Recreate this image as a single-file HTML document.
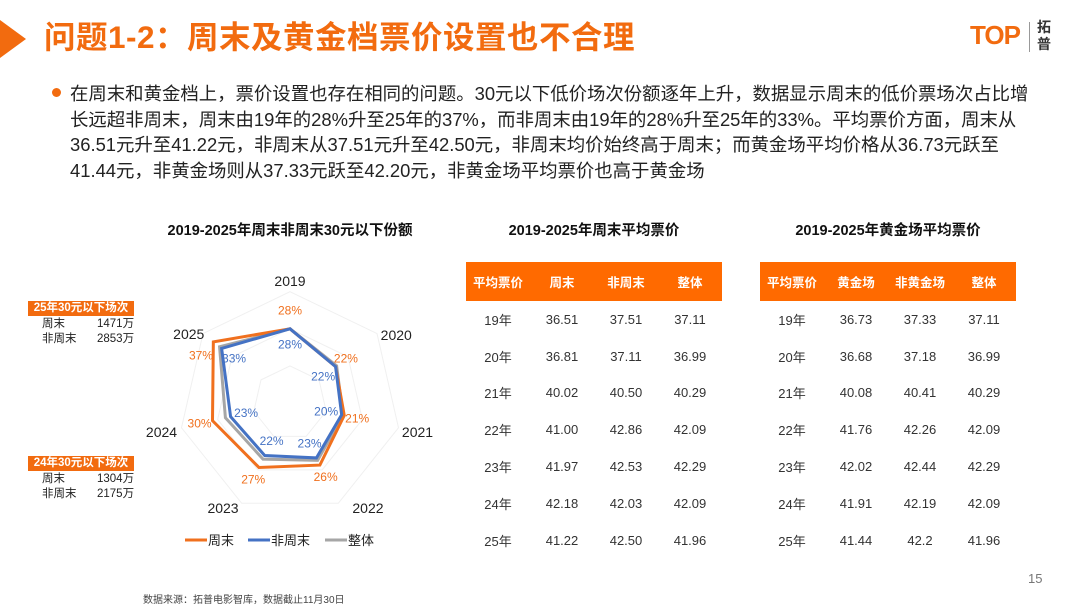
<!DOCTYPE html>
<html><head><meta charset="utf-8"><style>
body{margin:0;width:1080px;height:608px;background:#fff;position:relative;overflow:hidden;font-family:"Liberation Sans","Noto Sans CJK SC",sans-serif;color:#222}
.abs{position:absolute}
.title{left:44px;top:17px;font-size:31.5px;font-weight:bold;color:#F26B0F;letter-spacing:0.5px;line-height:40px}
.body{left:70px;top:81px;width:990px;font-size:18.4px;line-height:25.7px;color:#222;white-space:nowrap}
.ct{font-size:14.5px;font-weight:bold;color:#111;text-align:center}
table{border-collapse:collapse;position:absolute;font-size:13px;color:#333;table-layout:fixed}
th{background:#FF6A00;color:#fff;height:39px;padding:0;font-weight:bold;font-size:12.5px}
td{height:36.8px;padding:0;text-align:center}
.box{background:#F26B0F;color:#fff;font-weight:bold;font-size:11.5px;text-align:center;width:106px;height:15px;line-height:15px}
.kv{font-size:11.5px;color:#222;line-height:15px}
</style></head><body>
<div class="abs" style="left:0;top:20px;width:0;height:0;border-top:19px solid transparent;border-bottom:19px solid transparent;border-left:26px solid #F26B0F"></div>
<div class="abs title">问题1-2：周末及黄金档票价设置也不合理</div>
<div class="abs" style="left:970px;top:20px;font-size:26px;font-weight:bold;color:#F26B0F;letter-spacing:-1px">TOP</div>
<div class="abs" style="left:1029px;top:22px;width:1px;height:30px;background:#999"></div>
<div class="abs" style="left:1037px;top:19px;font-size:14px;line-height:17px;font-weight:bold;color:#333">拓<br>普</div>
<div class="abs" style="left:52px;top:88px;width:9px;height:9px;border-radius:50%;background:#F26B0F"></div>
<div class="abs body">在周末和黄金档上，票价设置也存在相同的问题。30元以下低价场次份额逐年上升，数据显示周末的低价票场次占比增<br>长远超非周末，周末由19年的28%升至25年的37%，而非周末由19年的28%升至25年的33%。平均票价方面，周末从<br>36.51元升至41.22元，非周末从37.51元升至42.50元，非周末均价始终高于周末；而黄金场平均价格从36.73元跃至<br>41.44元，非黄金场则从37.33元跃至42.20元，非黄金场平均票价也高于黄金场</div>

<div class="abs ct" style="left:130px;top:219px;width:320px">2019-2025年周末非周末30元以下份额</div>
<div class="abs box" style="left:28px;top:301px">25年30元以下场次</div>
<div class="abs kv" style="left:42px;top:317px;width:110px"><span>周末</span><span style="position:absolute;left:55px">1471万</span><br><span>非周末</span><span style="position:absolute;left:55px">2853万</span></div>
<div class="abs box" style="left:28px;top:456px">24年30元以下场次</div>
<div class="abs kv" style="left:42px;top:472px;width:110px"><span>周末</span><span style="position:absolute;left:55px">1304万</span><br><span>非周末</span><span style="position:absolute;left:55px">2175万</span></div>

<svg class="abs" style="left:0;top:0" width="1080" height="608" id="radar"></svg>

<div class="abs ct" style="left:466px;top:219px;width:256px">2019-2025年周末平均票价</div>
<table style="left:466px;top:262px;width:256px">
<tr><th>平均票价</th><th>周末</th><th>非周末</th><th>整体</th></tr>
<tr><td>19年</td><td>36.51</td><td>37.51</td><td>37.11</td></tr>
<tr><td>20年</td><td>36.81</td><td>37.11</td><td>36.99</td></tr>
<tr><td>21年</td><td>40.02</td><td>40.50</td><td>40.29</td></tr>
<tr><td>22年</td><td>41.00</td><td>42.86</td><td>42.09</td></tr>
<tr><td>23年</td><td>41.97</td><td>42.53</td><td>42.29</td></tr>
<tr><td>24年</td><td>42.18</td><td>42.03</td><td>42.09</td></tr>
<tr><td>25年</td><td>41.22</td><td>42.50</td><td>41.96</td></tr>
</table>
<div class="abs ct" style="left:760px;top:219px;width:256px">2019-2025年黄金场平均票价</div>
<table style="left:760px;top:262px;width:256px">
<tr><th>平均票价</th><th>黄金场</th><th>非黄金场</th><th>整体</th></tr>
<tr><td>19年</td><td>36.73</td><td>37.33</td><td>37.11</td></tr>
<tr><td>20年</td><td>36.68</td><td>37.18</td><td>36.99</td></tr>
<tr><td>21年</td><td>40.08</td><td>40.41</td><td>40.29</td></tr>
<tr><td>22年</td><td>41.76</td><td>42.26</td><td>42.09</td></tr>
<tr><td>23年</td><td>42.02</td><td>42.44</td><td>42.29</td></tr>
<tr><td>24年</td><td>41.91</td><td>42.19</td><td>42.09</td></tr>
<tr><td>25年</td><td>41.44</td><td>42.2</td><td>41.96</td></tr>
</table>
<div class="abs" style="left:1028px;top:571px;font-size:13px;color:#777">15</div>
<div class="abs" style="left:143px;top:591px;font-size:10px;color:#444">数据来源：拓普电影智库，数据截止11月30日</div>

<script>
const categories=["2019","2020","2021","2022","2023","2024","2025"];
const weekend=[28,22,21,26,27,30,37];
const nonWeekend=[28,22,20,23,22,23,33];
const overall=[28,22.5,20.5,24,23.5,25,34];
const labelNudgeX=[0,0,-5,19,-8,4,5];
const labelNudgeY=[0,8,2,-5,-5,2,7];
const weekendLblNudgeX=[0,0,0,0,0,0,-2];
const weekendLblNudgeY=[-5,0,0,0,0,0,22];
const svg=document.getElementById('radar');
const NS="http://www.w3.org/2000/svg";
const cx=290,cy=403,k=2.65,maxV=42;
function pt(i,v){const a=i*2*Math.PI/7;return [cx+Math.sin(a)*v*k,cy-Math.cos(a)*v*k];}
function mk(t,attrs){const e=document.createElementNS(NS,t);for(const a in attrs)e.setAttribute(a,attrs[a]);svg.appendChild(e);return e;}
[14,28,42].forEach(g=>{
 const p=mk('polygon',{points:categories.map((c,i)=>pt(i,g).join(',')).join(' '),fill:'none',stroke:'#f0f0f0','stroke-width':1});
 
 
});
categories.forEach((c,i)=>{
 const a=i*2*Math.PI/7;
 const [x,y]=pt(i,maxV+4);
 const t=mk('text',{x:x+Math.sin(a)*14+labelNudgeX[i],y:y+5+labelNudgeY[i],'text-anchor':'middle','font-size':14,fill:'#222','font-family':'Liberation Sans,sans-serif'});
 t.textContent=c;
 
 
});
function series(vals,col,name,lblOff,nx,ny){
 const p=mk('polygon',{points:vals.map((v,i)=>pt(i,v).join(',')).join(' '),fill:'none',stroke:col,'stroke-width':3,'stroke-linejoin':'miter'});
 
 
 if(lblOff!==null){vals.forEach((v,i)=>{
  const [x,y]=pt(i,v+lblOff);
  const t=mk('text',{x:x+(nx?nx[i]:0),y:y+4+(ny?ny[i]:0),'text-anchor':'middle','font-size':12,fill:col,'font-family':'Liberation Sans,sans-serif'});
  t.textContent=v+'%';
  
  
 });}
}
series(overall,'#A6A6A6','overall',null);
series(weekend,'#F0701E','weekend',5,weekendLblNudgeX,weekendLblNudgeY);
series(nonWeekend,'#4472C4','non-weekend',-6);
const leg=[['周末','#F0701E',185],['非周末','#4472C4',248],['整体','#A6A6A6',325]];
leg.forEach(l=>{
 const ln=mk('line',{x1:l[2],y1:540,x2:l[2]+22,y2:540,stroke:l[1],'stroke-width':3});
 
 
 const t=mk('text',{x:l[2]+23,y:545,'font-size':13,fill:'#222','font-family':'Liberation Sans,Noto Sans CJK SC,sans-serif'});
 t.textContent=l[0];
 
 
});
</script>
</body></html>
